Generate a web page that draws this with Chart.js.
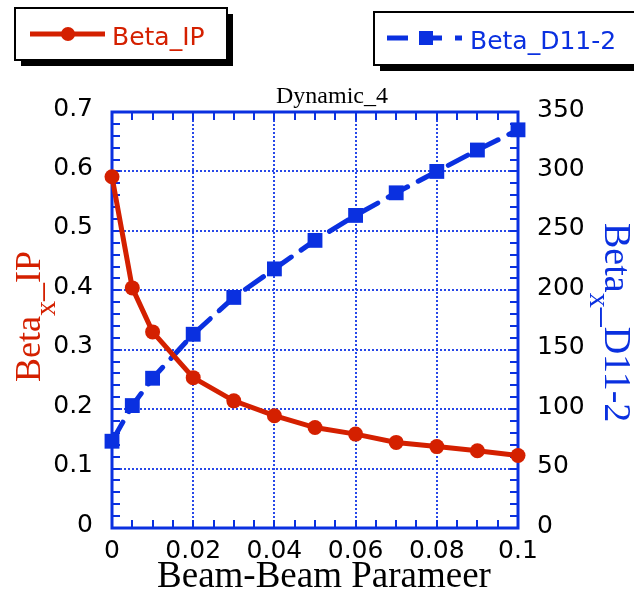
<!DOCTYPE html>
<html>
<head>
<meta charset="utf-8">
<title>Dynamic_4</title>
<script src="https://cdn.jsdelivr.net/npm/chart.js@4/dist/chart.umd.min.js"></script>
<style>
  html,body{margin:0;padding:0;background:#fff;}
  #wrap{width:634px;height:600px;position:relative;}
</style>
</head>
<body>
<div id="wrap"><canvas id="chart" width="634" height="600"></canvas></div>
<script>
// beam-beam parameter vs beta functions
const beamBeam = [0, 0.005, 0.01, 0.02, 0.03, 0.04, 0.05, 0.06, 0.07, 0.08, 0.09, 0.1];
const betaIP   = [0.591, 0.404, 0.330, 0.253, 0.214, 0.189, 0.169, 0.158, 0.144, 0.137, 0.130, 0.122];
const betaD11  = [73, 103, 126, 163, 194, 218, 242, 263, 282, 300, 318, 335];
const xTicks   = [0, 0.02, 0.04, 0.06, 0.08, 0.1];
const yLeftTicks  = [0, 0.1, 0.2, 0.3, 0.4, 0.5, 0.6, 0.7];
const yRightTicks = [0, 50, 100, 150, 200, 250, 300, 350];

const RED = '#d42000';
const BLUE = '#0a30e0';
const GRID = '#2848e8';
const SANS = '"DejaVu Sans", sans-serif';
const SERIF = '"Liberation Serif", "Times New Roman", serif';

function pts(xs, ys){ return xs.map((x,i)=>({x:x, y:ys[i]})); }
function fmt(v){ return v===0 ? '0' : String(+v.toFixed(3)); }

// frame + inward minor ticks on all four sides
const framePlugin = {
  id:'frame',
  beforeDatasetsDraw(chart){
    const {ctx, chartArea:a, scales} = chart;
    ctx.save();
    ctx.strokeStyle = BLUE;
    ctx.lineWidth = 2;
    ctx.beginPath();
    for(let v=0; v<=0.1001; v+=0.005){
      const x = Math.round(scales.x.getPixelForValue(v));
      ctx.moveTo(x, a.bottom); ctx.lineTo(x, a.bottom-8);
      ctx.moveTo(x, a.top); ctx.lineTo(x, a.top+8);
    }
    for(let v=0; v<=0.7001; v+=0.02){
      const y = Math.round(scales.y.getPixelForValue(v));
      ctx.moveTo(a.left, y); ctx.lineTo(a.left+8, y);
    }
    for(let v=0; v<=350.01; v+=10){
      const y = Math.round(scales.y2.getPixelForValue(v));
      ctx.moveTo(a.right, y); ctx.lineTo(a.right-8, y);
    }
    ctx.stroke();
    ctx.lineWidth = 3;
    ctx.strokeRect(a.left, a.top, a.right-a.left, a.bottom-a.top);
    ctx.restore();
  }
};

// axis title with a subscript x after "Beta"
function subTitle(ctx, size, parts){
  let x = 0;
  parts.forEach(p=>{
    ctx.font = (p.sub ? 30 : size)+'px '+SERIF;
    ctx.fillText(p.t, x, p.sub ? 15 : 0);
    x += ctx.measureText(p.t).width;
  });
}

// titles and the two boxed legends
const textPlugin = {
  id:'texts',
  afterDraw(chart){
    const ctx = chart.ctx;
    ctx.save();
    ctx.textBaseline = 'alphabetic';
    ctx.fillStyle = '#000';
    ctx.textAlign = 'center';
    ctx.font = '24px '+SERIF;
    ctx.fillText('Dynamic_4', 332, 103);
    ctx.font = '37px '+SERIF;
    ctx.fillText('Beam-Beam Parameer', 324, 587);

    ctx.textAlign = 'left';
    ctx.save();
    ctx.translate(40, 382);
    ctx.rotate(-Math.PI/2);
    ctx.fillStyle = RED;
    subTitle(ctx, 36, [{t:'Beta'},{t:'x',sub:true},{t:'_IP'}]);
    ctx.restore();

    ctx.save();
    ctx.translate(605, 223);
    ctx.rotate(Math.PI/2);
    ctx.fillStyle = BLUE;
    subTitle(ctx, 38, [{t:'Beta'},{t:'x',sub:true},{t:'_D11-2'}]);
    ctx.restore();

    // legend boxes with drop shadow
    function box(x, y, w, h){
      ctx.fillStyle = '#000';
      ctx.fillRect(x+6, y+6, w, h);
      ctx.fillStyle = '#fff';
      ctx.fillRect(x, y, w, h);
      ctx.strokeStyle = '#000';
      ctx.lineWidth = 2;
      ctx.strokeRect(x, y, w, h);
    }
    box(15, 8, 212, 52);
    box(374, 12, 270, 53);

    ctx.lineWidth = 5;
    ctx.strokeStyle = RED;
    ctx.beginPath(); ctx.moveTo(30, 34); ctx.lineTo(105, 34); ctx.stroke();
    ctx.fillStyle = RED;
    ctx.beginPath(); ctx.arc(68, 34, 7, 0, Math.PI*2); ctx.fill();
    ctx.font = '25px '+SANS;
    ctx.fillText('Beta_IP', 112, 45);

    ctx.strokeStyle = BLUE;
    ctx.fillStyle = BLUE;
    ctx.beginPath();
    ctx.moveTo(387, 38); ctx.lineTo(408, 38);
    ctx.moveTo(426, 38); ctx.lineTo(442, 38);
    ctx.moveTo(455, 38); ctx.lineTo(462, 38);
    ctx.stroke();
    ctx.fillRect(419, 31, 14, 14);
    ctx.fillText('Beta_D11-2', 470, 49);
    ctx.restore();
  }
};

new Chart(document.getElementById('chart'), {
  type:'line',
  data:{
    datasets:[
      {
        label:'Beta_IP',
        data:pts(beamBeam, betaIP),
        yAxisID:'y',
        borderColor:RED,
        backgroundColor:RED,
        borderWidth:5,
        pointRadius:7.5,
        pointBorderWidth:0,
        tension:0,
        clip:false
      },
      {
        label:'Beta_D11-2',
        data:pts(beamBeam, betaD11),
        yAxisID:'y2',
        borderColor:BLUE,
        backgroundColor:BLUE,
        borderWidth:5,
        borderDash:[22,12],
        borderCapStyle:'round',
        pointStyle:'rect',
        pointRadius:10.5,
        pointBorderWidth:0,
        tension:0,
        clip:false
      }
    ]
  },
  options:{
    responsive:false,
    animation:false,
    layout:{padding:{top:112,left:0,right:0,bottom:0}},
    plugins:{legend:{display:false}, tooltip:{enabled:false}},
    scales:{
      x:{
        type:'linear', min:0, max:0.1,
        afterBuildTicks(s){ s.ticks = xTicks.map(v=>({value:v})); },
        afterFit(s){ s.height = 72; },
        grid:{color:GRID, lineWidth:2, drawTicks:false},
        border:{display:false, dash:[2,2]},
        ticks:{color:'#000', font:{family:SANS, size:25}, padding:8, maxRotation:0, callback:v=>fmt(v)}
      },
      y:{
        type:'linear', position:'left', min:0, max:0.7,
        afterBuildTicks(s){ s.ticks = yLeftTicks.map(v=>({value:v})); },
        afterFit(s){ s.width = 112; },
        grid:{color:GRID, lineWidth:2, drawTicks:false},
        border:{display:false, dash:[2,2]},
        ticks:{color:'#000', font:{family:SANS, size:25}, padding:19, labelOffset:-3, callback:v=>fmt(v)}
      },
      y2:{
        type:'linear', position:'right', min:0, max:350,
        afterBuildTicks(s){ s.ticks = yRightTicks.map(v=>({value:v})); },
        afterFit(s){ s.width = 116; },
        grid:{drawOnChartArea:false, drawTicks:false},
        border:{display:false},
        ticks:{color:'#000', font:{family:SANS, size:25}, padding:19, labelOffset:-2, callback:v=>fmt(v)}
      }
    }
  },
  plugins:[framePlugin, textPlugin]
});
</script>
</body>
</html>
